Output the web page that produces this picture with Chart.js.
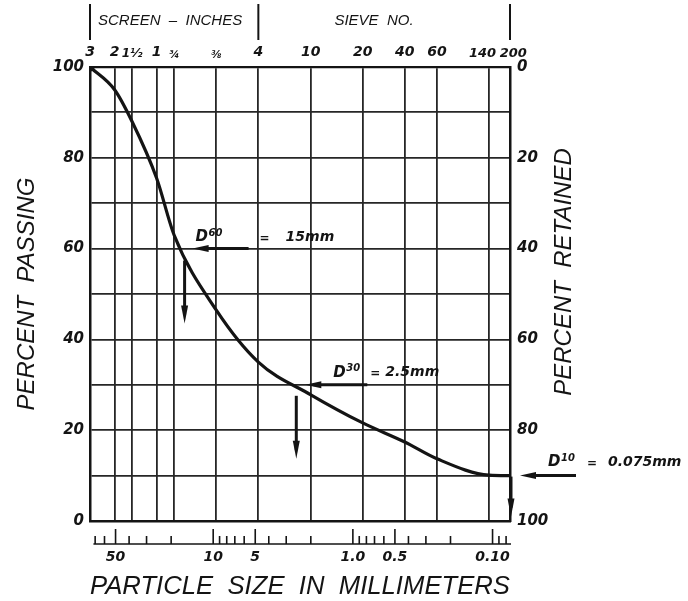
<!DOCTYPE html>
<html><head><meta charset="utf-8">
<script src="https://cdn.jsdelivr.net/npm/chart.js@4/dist/chart.umd.min.js"></script>
<style>html,body{margin:0;padding:0;background:#fff}#wrap{width:688px;height:601px;position:relative}</style>
</head><body><div id="wrap"><canvas id="c"></canvas></div>
<script>
// ---- data ----
const sieveSizes  = [76.2, 50.8, 38.1, 25.4, 19.05, 9.525, 4.75, 2.0, 0.85, 0.425, 0.25, 0.106, 0.075]; // mm
const sieveLabels = ['3', '2', '1½', '1', '¾', '⅜', '4', '10', '20', '40', '60', '140\u2003', '\u2002200'];
const passingPct  = [100, 95, 88, 75.5, 63, 46.5, 35, 27.8, 21.6, 17.4, 13.7, 10.1, 10];
const mmTicks     = [50, 10, 5, 1, 0.5, 0.1];
const mmLabels    = ['50', '10', '5', '1.0', '0.5', '0.10'];
const pctTicks    = [0, 10, 20, 30, 40, 50, 60, 70, 80, 90, 100];
const pctLabelled = [0, 20, 40, 60, 80, 100];
const dNames      = ['60', '30', '10'];
const dSizes      = [15, 2.5, 0.075];
const dPct        = [60, 30, 10];
const dText       = ['15mm', '2.5mm', '0.075mm'];
const headerTexts = ['SCREEN  –  INCHES', 'SIEVE  NO.'];
const headerBounds = [76.2, 4.75, 0.075];
const rightTitle  = 'PERCENT  RETAINED';

const INK = '#141414';
const numFont = (size) => ({family: 'DejaVu Sans', size: size, weight: 'bold', style: 'italic'});

function arrow(ctx, x1, y1, x2, y2, head, hw) {
  const a = Math.atan2(y2 - y1, x2 - x1), c = Math.cos(a), s = Math.sin(a);
  ctx.beginPath(); ctx.moveTo(x1, y1); ctx.lineTo(x2 - c * head * 0.5, y2 - s * head * 0.5); ctx.stroke();
  ctx.beginPath(); ctx.moveTo(x2, y2);
  ctx.lineTo(x2 - c * head + s * hw, y2 - s * head - c * hw);
  ctx.lineTo(x2 - c * head - s * hw, y2 - s * head + c * hw);
  ctx.closePath(); ctx.fill();
}

const extras = {
  id: 'extras',
  afterDraw(chart) {
    const ctx = chart.ctx, x = chart.scales.x, y = chart.scales.y;
    ctx.save();
    ctx.strokeStyle = INK; ctx.fillStyle = INK;
    // header separators and texts
    ctx.lineWidth = 2;
    headerBounds.forEach(v => {
      const px = x.getPixelForValue(v);
      ctx.beginPath(); ctx.moveTo(px, 4); ctx.lineTo(px, 40); ctx.stroke();
    });
    ctx.font = 'italic 15px "Liberation Sans"';
    ctx.textBaseline = 'middle';
    ctx.textAlign = 'left';
    ctx.fillText(headerTexts[0], x.getPixelForValue(headerBounds[0]) + 8, 21);
    ctx.textAlign = 'center';
    ctx.fillText(headerTexts[1], 374, 21);

    // right axis title (reads bottom to top)
    ctx.save();
    ctx.translate(chart.scales.y2.right - 124, 272);
    ctx.rotate(-Math.PI / 2);
    ctx.font = 'italic 24px "Liberation Sans"';
    ctx.textAlign = 'center'; ctx.textBaseline = 'middle';
    ctx.fillText(rightTitle, 0, 0);
    ctx.restore();

    // bottom tick strip
    const base = 544;
    ctx.lineWidth = 1.6;
    ctx.beginPath(); ctx.moveTo(x.getPixelForValue(72), base); ctx.lineTo(x.getPixelForValue(0.075) + 1, base); ctx.stroke();
    for (let e = -2; e <= 1; e++) {
      for (let m = 1; m <= 9; m++) {
        const v = m * Math.pow(10, e);
        if (v < 0.075 || v > 72) continue;
        const px = x.getPixelForValue(v);
        const h = (m === 1 || m === 5) ? 15 : 8;
        ctx.beginPath(); ctx.moveTo(px, base); ctx.lineTo(px, base - h); ctx.stroke();
      }
    }

    // D annotations
    const lay = [
      {hTail: 60, hTip: 4, vx: -4, v0: 12, v1: 75, tx: 7, ty: -11, eq: 64, val: 90},
      {hTail: 70, hTip: 8, vx: -1, v0: 11, v1: 74, tx: 36, ty: -12, eq: 37, val: 52},
      {hTail: 66, hTip: 10, vx: 1, v0: 1, v1: 41, tx: 38, ty: -13, eq: 39, val: 60}
    ];
    dSizes.forEach((d, i) => {
      const px = x.getPixelForValue(d), py = y.getPixelForValue(dPct[i]), L = lay[i];
      ctx.lineWidth = 3;
      arrow(ctx, px + L.hTail, py, px + L.hTip, py, 16, 3.5);
      arrow(ctx, px + L.vx, py + L.v0, px + L.vx, py + L.v1, 18, 3.5);
      const tx = px + L.tx, ty = py + L.ty;
      ctx.textAlign = 'left'; ctx.textBaseline = 'middle';
      ctx.font = 'italic bold 15px "DejaVu Sans"';
      ctx.fillText('D', tx, ty);
      const dw = ctx.measureText('D').width;
      ctx.font = 'italic bold 10px "DejaVu Sans"';
      ctx.fillText(dNames[i], tx + dw + 0.5, ty - 4);
      ctx.font = 'bold 12px "DejaVu Sans"';
      ctx.fillText('=', tx + L.eq, ty + 1);
      ctx.font = 'italic bold 14px "DejaVu Sans"';
      ctx.fillText(dText[i], tx + L.val, ty);
    });
    ctx.restore();
  }
};

const xCommon = {type: 'logarithmic', reverse: true, min: 0.075, max: 76.2};

new Chart(document.getElementById('c'), {
  type: 'line',
  data: {
    datasets: [{
      data: sieveSizes.map((s, i) => ({x: s, y: passingPct[i]})),
      borderColor: INK, backgroundColor: INK, borderWidth: 3.2,
      pointRadius: c => c.dataIndex === 0 ? 3 : 0,
      cubicInterpolationMode: 'monotone', fill: false,
      xAxisID: 'x', yAxisID: 'y'
    }]
  },
  options: {
    responsive: true, maintainAspectRatio: false, animation: false,
    layout: {padding: 0},
    plugins: {legend: {display: false}, tooltip: {enabled: false}},
    scales: {
      x: Object.assign({}, xCommon, {
        position: 'bottom',
        afterBuildTicks: s => { s.ticks = mmTicks.map(v => ({value: v})); },
        afterFit: s => { s.height = 80; },
        ticks: {autoSkip: false, maxRotation: 0, minRotation: 0, padding: 28, color: INK, font: numFont(14),
          callback: (v, i) => mmLabels[i]},
        grid: {drawOnChartArea: false, drawTicks: false},
        border: {display: true, color: INK, width: 2.5},
        title: {display: true, text: 'PARTICLE  SIZE  IN  MILLIMETERS', color: INK,
          font: {family: 'Liberation Sans', size: 26, style: 'italic', lineHeight: 1}, padding: {top: 0, bottom: 1}}
      }),
      x2: Object.assign({}, xCommon, {
        position: 'top',
        afterBuildTicks: s => { s.ticks = sieveSizes.map(v => ({value: v})); },
        afterFit: s => { s.height = 67; },
        ticks: {autoSkip: false, maxRotation: 0, minRotation: 0, padding: 6, color: INK,
          font: c => numFont([4, 5].includes(c.index) ? 10 : (c.index === 2 ? 12 : (c.index >= 11 ? 13 : 14))),
          callback: (v, i) => sieveLabels[i]},
        grid: {drawOnChartArea: true, drawTicks: false, color: '#262626', lineWidth: 1.8},
        border: {display: true, color: INK, width: 2.2}
      }),
      y: {
        type: 'linear', position: 'left', min: 0, max: 100,
        afterBuildTicks: s => { s.ticks = pctTicks.map(v => ({value: v})); },
        afterFit: s => { s.width = 90; },
        ticks: {padding: 6, color: INK, font: numFont(15),
          callback: v => pctLabelled.includes(v) ? String(v) : ''},
        grid: {drawTicks: false, color: '#262626', lineWidth: 1.8},
        border: {display: true, color: INK, width: 2.5},
        title: {display: true, text: 'PERCENT  PASSING', color: INK,
          font: {family: 'Liberation Sans', size: 24, style: 'italic', lineHeight: 1}, padding: {top: 15, bottom: 0}}
      },
      y2: {
        type: 'linear', position: 'right', min: 0, max: 100, reverse: true,
        afterBuildTicks: s => { s.ticks = pctTicks.map(v => ({value: v})); },
        afterFit: s => { s.width = 178; },
        ticks: {padding: 7, color: INK, font: numFont(15),
          callback: v => pctLabelled.includes(v) ? String(v) : ''},
        grid: {drawOnChartArea: false, drawTicks: false},
        border: {display: true, color: INK, width: 2.5}
      }
    }
  },
  plugins: [extras]
});
</script>
</body></html>
